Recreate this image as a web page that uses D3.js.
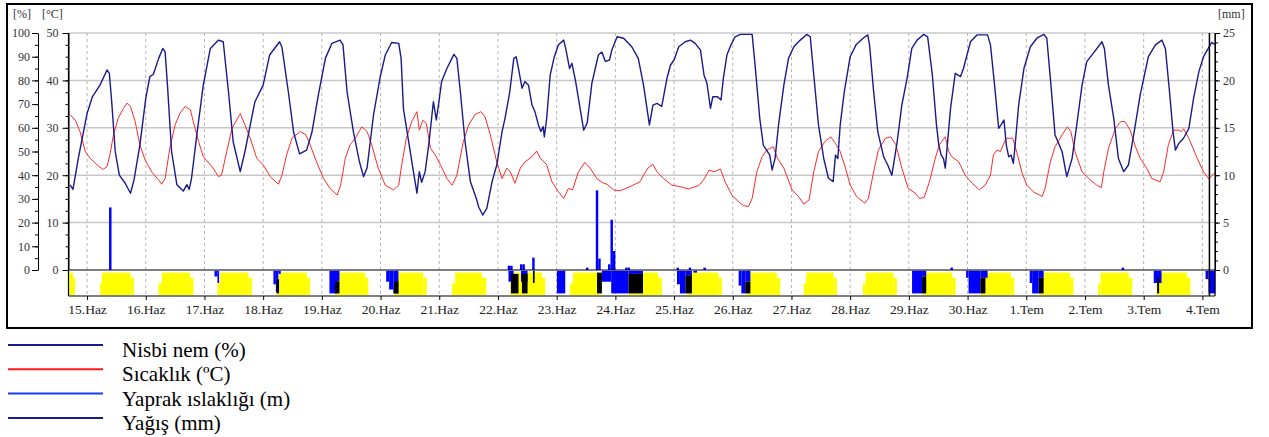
<!DOCTYPE html>
<meta charset="UTF-8">
<style>
  body { margin: 0; background: #fff; }
  text { font-family: "Liberation Serif", "Times New Roman", serif; }
</style>
<svg width="1269" height="437"></svg>
<script src="https://cdn.jsdelivr.net/npm/d3@7"></script>
<script>

// gün etiketleri (15.Haz = gün 0)
var dayLabels = ["15.Haz", "16.Haz", "17.Haz", "18.Haz", "19.Haz", "20.Haz", "21.Haz", "22.Haz",
  "23.Haz", "24.Haz", "25.Haz", "26.Haz", "27.Haz", "28.Haz", "29.Haz", "30.Haz",
  "1.Tem", "2.Tem", "3.Tem", "4.Tem"];

// nisbi nem [gün, %]
var humidity = [
  [-0.29,35.9],[-0.24,34],[-0.15,47],[0,66],[0.09,73],[0.22,78],[0.34,84.4],[0.38,83],[0.42,71],[0.48,50],[0.55,40],[0.65,36.6],[0.74,32.4],[0.80,38],[0.90,52.7],
  [1.0,72.4],[1.07,81.6],[1.13,82.6],[1.22,89.3],[1.29,93.5],[1.33,92],[1.37,78],[1.44,50],[1.53,36],[1.64,33.3],[1.70,36],[1.74,34],[1.78,38.7],[1.87,57],[1.98,78],
  [2.10,93.5],[2.24,97],[2.32,96.3],[2.41,75],[2.49,54],[2.61,41.5],[2.69,50],[2.86,71],[3.0,78],[3.11,90.7],[3.28,96.3],[3.32,94],[3.43,75],[3.52,58],[3.62,49],[3.74,50.6],[3.83,58],[3.94,73.8],
  [4.06,89.3],[4.17,95.6],[4.31,97],[4.36,95],[4.43,75],[4.54,58],[4.64,45.7],[4.71,39.4],[4.77,43],[4.88,65.4],[4.99,81],
  [5.08,90.7],[5.19,96],[5.31,95.6],[5.35,89.3],[5.39,68],[5.48,54],[5.56,41.5],[5.62,32.4],[5.66,41.5],[5.70,37],[5.76,41.5],[5.82,52.7],[5.90,71],[5.95,63.3],[5.99,70.3],
  [6.04,79.5],[6.13,85],[6.25,91],[6.30,89.3],[6.36,75],[6.44,54],[6.53,37.3],[6.64,29.5],[6.67,26.7],[6.74,23.2],[6.81,26],[6.90,37.3],[6.98,44.3],
  [7.07,58.4],[7.12,64],[7.20,75],[7.27,89.3],[7.31,90],[7.35,85],[7.41,76.7],[7.46,79.5],[7.52,78],[7.58,69.6],[7.63,66.8],[7.69,61.2],[7.73,58.4],[7.77,60.5],[7.79,56.2],[7.83,64],[7.89,82.3],[7.96,90],
  [8.03,95],[8.12,97],[8.16,92.8],[8.22,85],[8.26,87.2],[8.32,80],[8.39,69.6],[8.46,59],[8.52,62],[8.60,78.8],[8.71,90.7],[8.77,92],[8.83,88],[8.90,88.6],[8.94,92.8],
  [9.03,98.4],[9.14,97.8],[9.28,94.2],[9.39,89.3],[9.48,78],[9.58,61.2],[9.64,69.6],[9.71,70.3],[9.79,69],[9.88,81],[9.94,86.5],
  [10.0,88.6],[10.08,94.2],[10.19,96.3],[10.28,97],[10.36,95.6],[10.45,92.8],[10.51,82.3],[10.56,78.8],[10.62,68.2],[10.66,73.1],[10.74,73.1],[10.80,71.7],[10.84,81],[10.90,90.7],[10.97,95],
  [11.04,98.4],[11.13,99.4],[11.33,99.4],[11.38,86.5],[11.46,64],[11.52,52.7],[11.63,48.5],[11.67,42.2],[11.72,47],[11.78,61.2],[11.87,78],[11.95,89.3],
  [12.04,94.2],[12.15,97],[12.26,99.4],[12.32,98.4],[12.38,82.3],[12.46,61.2],[12.55,47],[12.63,38.7],[12.71,37.3],[12.75,48.5],[12.79,47],[12.83,61.2],[12.90,75.2],
  [13.0,90],[13.10,95],[13.22,97.8],[13.30,99.2],[13.33,95],[13.40,75.2],[13.47,58.4],[13.57,47.8],[13.64,44.3],[13.71,40],[13.80,54],[13.88,69.6],[13.97,81],
  [14.05,93.5],[14.14,97],[14.25,99.4],[14.32,98.4],[14.40,82.3],[14.47,61.2],[14.51,52.7],[14.55,48.5],[14.59,47],[14.62,43],[14.65,51.3],[14.71,68.2],[14.79,83],[14.88,81.6],[14.93,85],[14.99,90.7],
  [15.05,96.3],[15.16,99.2],[15.34,99.2],[15.39,95],[15.46,78],[15.53,59.8],[15.57,61.2],[15.62,63.3],[15.66,52.7],[15.70,47.8],[15.74,48.5],[15.78,45],[15.81,52.7],[15.87,69.6],[15.96,85],
  [16.07,94.2],[16.18,97.8],[16.30,99.4],[16.35,97.8],[16.42,78],[16.49,57],[16.61,50],[16.69,39.4],[16.78,47],[16.86,61.2],[16.95,78],
  [17.03,87.9],[17.14,91.4],[17.29,96.3],[17.33,93.5],[17.40,78],[17.49,64],[17.57,47],[17.66,41.5],[17.74,44.3],[17.83,57],[17.94,73.8],
  [18.08,90],[18.20,95],[18.31,97],[18.37,93.5],[18.44,75.2],[18.50,58.4],[18.54,50.6],[18.60,53.5],[18.68,55.6],[18.77,59.8],[18.85,72.4],[18.94,83.7],
  [19.02,90],[19.11,93.9],[19.16,96],[19.21,95.2]
];

// sıcaklık [gün, °C]
var temperature = [
  [-0.29,32.8],[-0.20,31.6],[-0.12,29.2],[-0.03,25],[0.05,23.6],[0.17,22.2],[0.27,21.2],[0.34,21.8],[0.39,24.3],[0.45,28.5],[0.53,32],[0.62,34.1],[0.68,35.2],[0.74,34.5],[0.82,31.3],[0.90,26.4],[0.99,23.2],
  [1.10,20.7],[1.22,19],[1.27,18.1],[1.33,19.3],[1.41,25.7],[1.50,30.6],[1.58,33],[1.67,34.5],[1.76,33.8],[1.81,31.3],[1.90,27.1],[1.98,23.9],
  [2.13,21.8],[2.24,19.7],[2.29,20],[2.38,25],[2.47,29.9],[2.61,33],[2.69,30.6],[2.78,27.8],[2.89,23.6],[3.0,22.2],
  [3.12,19.7],[3.26,18.1],[3.32,20],[3.40,24.3],[3.49,27.8],[3.63,29.2],[3.73,28.5],[3.80,26.4],[3.91,22.8],
  [4.03,19.3],[4.14,17.2],[4.26,15.8],[4.32,17.9],[4.40,23.6],[4.48,26.4],[4.57,27.8],[4.68,30.2],[4.77,29.2],[4.85,26.4],[4.96,21.5],
  [5.08,17.9],[5.22,16.9],[5.31,17.9],[5.36,22.2],[5.44,27.8],[5.53,31.3],[5.62,33.4],[5.66,29.5],[5.72,31.6],[5.78,30.9],[5.85,25.7],[5.93,24.3],
  [6.02,22.2],[6.13,19.3],[6.22,17.9],[6.30,20],[6.41,27.1],[6.50,30.6],[6.61,32.8],[6.71,33.4],[6.78,32.3],[6.87,28.5],[6.98,22.8],
  [7.07,19.3],[7.15,21.5],[7.21,20.7],[7.29,18.3],[7.38,21.5],[7.46,22.8],[7.58,23.9],[7.66,25.1],[7.72,23.6],[7.83,22.2],[7.92,18.6],
  [8.03,16.5],[8.12,15.1],[8.20,17.2],[8.27,16.9],[8.37,20.7],[8.48,22.7],[8.57,21.5],[8.69,19.2],[8.80,18.3],[8.86,18.1],[8.97,16.9],
  [9.08,16.7],[9.25,17.6],[9.42,18.6],[9.48,20],[9.56,21.6],[9.64,22.3],[9.71,20.7],[9.82,19.3],[9.96,17.9],
  [10.10,17.6],[10.24,17.1],[10.42,17.8],[10.50,19],[10.60,21.1],[10.68,20.7],[10.79,21.3],[10.87,18.6],[10.99,15.7],
  [11.10,14.4],[11.18,13.6],[11.27,13.4],[11.33,15.1],[11.41,20.7],[11.50,23.9],[11.58,25.3],[11.69,26],[11.76,23.6],[11.87,21.5],
  [12.01,16.9],[12.12,15.5],[12.21,13.9],[12.30,14.8],[12.38,20.7],[12.46,25],[12.57,27.1],[12.67,28.1],[12.75,26.7],[12.83,25],[12.92,21.5],
  [13.0,17.9],[13.11,15.5],[13.25,14.1],[13.31,15.1],[13.40,20.7],[13.48,25.3],[13.60,27.8],[13.69,28.1],[13.78,26.4],[13.88,21.5],[13.99,17.2],
  [14.11,16.2],[14.18,15.1],[14.26,15.3],[14.35,18.6],[14.45,23.6],[14.52,26.4],[14.56,27.1],[14.62,28.1],[14.68,25],[14.73,23.9],[14.85,22.8],[14.96,20],
  [15.08,18.3],[15.20,16.9],[15.30,17.9],[15.39,20],[15.44,24.3],[15.50,25.3],[15.56,25],[15.64,27.4],[15.67,27.8],[15.77,27.8],[15.85,24.3],[15.93,20.4],
  [16.01,17.9],[16.12,16.5],[16.27,15.5],[16.32,17.2],[16.41,22.8],[16.49,26],[16.61,28.5],[16.70,30.2],[16.76,29.2],[16.83,25],[16.95,20.7],
  [17.09,19],[17.20,17.9],[17.28,17.4],[17.32,20.7],[17.40,25.7],[17.52,29.9],[17.61,31.3],[17.68,31.3],[17.77,29.5],[17.86,26],[17.94,23.6],
  [18.05,21.5],[18.14,19.3],[18.28,18.6],[18.34,20.7],[18.42,26.4],[18.51,29.5],[18.60,29.5],[18.64,29.2],[18.68,29.8],[18.77,27.8],[18.91,23.6],
  [19.02,20.7],[19.11,19.2],[19.20,20.4]
];

// yağış, saatlik [saat (15.Haz 00:00'dan), mm]
var rain = [
  [9,6.6],[172,0.45],[173,0.45],[177,0.6],[178,0.6],[182,1.3],[204,0.25],[208,8.4],[209,1.2],
  [213,0.6],[214,5.3],[215,2.0],[220,0.25],[221,0.25],[241,0.25],[246,0.25],[252,0.25],[353,0.25],[423,0.25]
];

// alt şerit blokları [başlangıç saati, bitiş saati, üst, alt] (üst/alt: şerit yüksekliğinin oranı)
var sunBlocks = [
  [-7.6,-5.7,0.1,0.96],[-5.7,-4.9,0.3,0.96],
  [5.3,6.0,0.51,0.96],[6.0,17.9,0.1,0.96],[17.9,19.2,0.3,0.96],
  [29.2,30.6,0.51,0.96],[30.6,42.1,0.1,0.96],[42.1,43.5,0.3,0.96],
  [53.3,54.3,0.51,0.96],[54.3,66.0,0.1,0.96],[66.0,67.4,0.3,0.96],
  [77.4,78.5,0.51,0.96],[78.5,89.9,0.1,0.96],[89.9,91.2,0.3,0.96],
  [101.3,102.3,0.51,0.96],[102.3,113.7,0.1,0.96],[113.7,115.0,0.3,0.96],
  [125.3,126.3,0.51,0.96],[126.3,137.5,0.1,0.96],[137.5,138.9,0.3,0.96],
  [149.2,150.5,0.51,0.96],[150.5,161.4,0.1,0.96],[161.4,163.2,0.3,0.96],
  [173.0,174.0,0.51,0.96],[174.0,186.0,0.1,0.96],[186.0,187.3,0.3,0.96],
  [197.5,198.7,0.51,0.96],[198.7,210.0,0.1,0.96],
  [221.5,233.5,0.1,0.96],[233.5,235.0,0.3,0.96],
  [245.3,246.5,0.51,0.96],[246.5,258.2,0.1,0.96],[258.2,259.6,0.3,0.96],
  [269.3,270.3,0.51,0.96],[270.3,282.0,0.1,0.96],[282.0,283.4,0.3,0.96],
  [293.0,294.0,0.51,0.96],[294.0,305.2,0.1,0.96],[305.2,306.6,0.3,0.96],
  [317.2,318.3,0.51,0.96],[318.3,329.7,0.1,0.96],[329.7,331.1,0.3,0.96],
  [341.3,342.4,0.51,0.96],[342.4,353.7,0.1,0.96],[353.7,355.1,0.3,0.96],
  [365.3,366.3,0.51,0.96],[366.3,377.7,0.1,0.96],[377.7,379.1,0.3,0.96],
  [389.3,390.3,0.51,0.96],[390.3,401.9,0.1,0.96],[401.9,403.3,0.3,0.96],
  [413.4,414.4,0.51,0.96],[414.4,425.9,0.1,0.96],[425.9,427.3,0.3,0.96],
  [437.2,438.2,0.51,0.96],[438.2,449.7,0.1,0.96],[449.7,451.1,0.3,0.96]
];

var wetBlocks = [
  [52.1,53.3,0.03,0.25],[53.3,54.0,0.03,0.5],
  [76.2,77.2,0.03,0.55],[77.2,78.2,0.03,0.85],[78.2,79.2,0.03,0.15],
  [99.1,102.2,0.03,0.9],[102.2,103.2,0.03,0.45],
  [122.3,123.5,0.03,0.45],[123.5,125.2,0.03,0.75],[125.2,127.3,0.03,0.9],
  [172.3,174.4,0.03,0.45],[177.4,180.1,0.03,0.45],
  [192.1,195.5,0.03,0.9],
  [210.5,214.3,0.03,0.45],[214.3,221.4,0.03,0.9],[221.4,227.3,0.03,0.15],
  [241.2,242.4,0.03,0.55],[242.4,244.6,0.03,0.9],[244.6,247.3,0.03,0.2],[247.9,249.4,0.03,0.1],
  [266.4,267.5,0.03,0.6],[267.5,269.1,0.03,0.9],[269.1,271.2,0.03,0.45],
  [337.3,341.4,0.03,0.9],[341.4,343.1,0.03,0.25],
  [359.4,360.4,0.03,0.3],[360.4,365.2,0.03,0.9],[365.2,368.2,0.03,0.3],
  [385.4,386.4,0.03,0.5],[386.4,389.1,0.03,0.9],[389.1,391.1,0.03,0.3],
  [436.1,439.3,0.03,0.5],
  [457.3,458.5,0.03,0.35],[458.5,461.3,0.03,0.9]
];

var darkBlocks = [
  [77.5,78.5,0.35,0.9],
  [101.4,103.2,0.45,0.9],
  [125.5,127.3,0.45,0.9],
  [173.3,176.4,0.15,0.9],[177.8,180.1,0.15,0.9],[182.3,183.0,0.03,0.5],
  [208.5,210.5,0.1,0.9],[221.4,227.3,0.15,0.9],
  [244.6,247.3,0.2,0.9],
  [269.1,271.2,0.45,0.9],
  [341.4,343.1,0.25,0.9],
  [365.2,367.3,0.3,0.9],
  [389.1,391.1,0.3,0.9],
  [437.5,438.3,0.3,0.9]
];

var cursorDay = 19.12;

var svg = d3.select("svg");

var plotL = 68.5, plotR = 1215, plotT = 33, zeroY = 270, bandB = 296;

var x = d3.scaleLinear().domain([-0.316, 19.215]).range([plotL, plotR]);
var yHum = d3.scaleLinear().domain([0, 100]).range([zeroY, plotT]);
var yTemp = d3.scaleLinear().domain([0, 50]).range([zeroY, plotT]);
var yRain = d3.scaleLinear().domain([0, 25]).range([zeroY, plotT]);
var yBand = d3.scaleLinear().domain([0, 1]).range([zeroY, bandB]);

// çerçeve
svg.append("rect")
    .attr("x", 7).attr("y", 4).attr("width", 1245).attr("height", 324)
    .attr("fill", "none").attr("stroke", "#000").attr("stroke-width", 2);

var g = svg.append("g");

// yatay ızgara
g.selectAll(".hgrid")
    .data([10, 20, 30, 40, 50])
    .enter().append("line")
    .attr("x1", plotL).attr("x2", plotR)
    .attr("y1", function(d) { return yTemp(d); })
    .attr("y2", function(d) { return yTemp(d); })
    .attr("stroke", "#c8c8c8").attr("stroke-width", 1.5);

// dikey kesikli ızgara
g.selectAll(".vgrid")
    .data(d3.range(dayLabels.length))
    .enter().append("line")
    .attr("x1", function(d) { return x(d); })
    .attr("x2", function(d) { return x(d); })
    .attr("y1", plotT).attr("y2", bandB)
    .attr("stroke", "#b4b4b4").attr("stroke-dasharray", "3,3");

function drawBlocks(data, color) {
    g.append("g").selectAll("rect")
        .data(data)
        .enter().append("rect")
        .attr("x", function(d) { return x(d[0] / 24); })
        .attr("width", function(d) { return x(d[1] / 24) - x(d[0] / 24); })
        .attr("y", function(d) { return yBand(d[2]); })
        .attr("height", function(d) { return yBand(d[3]) - yBand(d[2]); })
        .attr("fill", color);
}
drawBlocks(sunBlocks, "#ffff00");
drawBlocks(wetBlocks, "#0000ff");
drawBlocks(darkBlocks, "#000000");

// yağış çubukları
g.append("g").selectAll("rect")
    .data(rain)
    .enter().append("rect")
    .attr("x", function(d) { return x(d[0] / 24); })
    .attr("width", function(d) { return x((d[0] + 1) / 24) - x(d[0] / 24); })
    .attr("y", function(d) { return yRain(d[1]); })
    .attr("height", function(d) { return zeroY - yRain(d[1]); })
    .attr("fill", "#0000ff");

var tempLine = d3.line()
    .x(function(d) { return x(d[0]); })
    .y(function(d) { return yTemp(d[1]); });

var humLine = d3.line()
    .x(function(d) { return x(d[0]); })
    .y(function(d) { return yHum(d[1]); });

g.append("path")
    .datum(temperature)
    .attr("fill", "none")
    .attr("stroke", "#ff2a2a")
    .attr("stroke-width", 1)
    .attr("stroke-linejoin", "round")
    .attr("d", tempLine);

g.append("path")
    .datum(humidity)
    .attr("fill", "none")
    .attr("stroke", "#1a1a8c")
    .attr("stroke-width", 1.4)
    .attr("stroke-linejoin", "round")
    .attr("d", humLine);

// imleç çizgisi
g.append("line")
    .attr("x1", x(cursorDay)).attr("x2", x(cursorDay))
    .attr("y1", plotT).attr("y2", bandB)
    .attr("stroke", "#000").attr("stroke-width", 1.5);

// sıfır çizgisi ve alt eksen
g.append("line")
    .attr("x1", plotL).attr("x2", plotR).attr("y1", zeroY).attr("y2", zeroY)
    .attr("stroke", "#000").attr("stroke-width", 1.2);

var xAxis = g.append("g")
    .attr("transform", "translate(0," + bandB + ")")
    .call(d3.axisBottom(x)
        .tickValues(d3.range(dayLabels.length))
        .tickFormat(function(d) { return dayLabels[d]; })
        .tickSize(4).tickSizeOuter(0).tickPadding(4));
xAxis.select(".domain").remove();
xAxis.selectAll("line").attr("stroke", "#000");
xAxis.selectAll("text").attr("font-family", "Liberation Serif").attr("font-size", 13.5).attr("fill", "#222");

g.append("line")
    .attr("x1", plotL).attr("x2", plotR).attr("y1", bandB).attr("y2", bandB)
    .attr("stroke", "#000").attr("stroke-width", 1.2);
g.append("line")
    .attr("x1", plotL).attr("x2", plotL).attr("y1", plotT).attr("y2", bandB)
    .attr("stroke", "#000").attr("stroke-width", 1.2);
g.append("line")
    .attr("x1", plotR).attr("x2", plotR).attr("y1", plotT).attr("y2", bandB)
    .attr("stroke", "#000").attr("stroke-width", 1.2);

function styleAxis(sel) {
    sel.selectAll("text").attr("font-family", "Liberation Serif").attr("font-size", 12).attr("fill", "#333");
    sel.selectAll("line, path").attr("stroke", "#000");
}

// % ekseni
var humAxis = svg.append("g").attr("transform", "translate(38,0)");
humAxis.call(d3.axisLeft(yHum).tickValues(d3.range(0, 101, 5)).tickSize(3).tickSizeOuter(0).tickFormat(""))
    .call(styleAxis);
humAxis.append("g").call(d3.axisLeft(yHum).tickValues(d3.range(0, 101, 10)).tickSize(6).tickSizeOuter(0).tickPadding(2))
    .call(styleAxis).select(".domain").remove();

// °C ekseni
var tempAxis = svg.append("g").attr("transform", "translate(" + plotL + ",0)");
tempAxis.call(d3.axisLeft(yTemp).tickValues(d3.range(0, 50.1, 2.5)).tickSize(3).tickSizeOuter(0).tickFormat(""))
    .call(styleAxis);
tempAxis.append("g").call(d3.axisLeft(yTemp).tickValues(d3.range(0, 51, 10)).tickSize(6).tickSizeOuter(0).tickPadding(4))
    .call(styleAxis).select(".domain").remove();

// mm ekseni
var rainAxis = svg.append("g").attr("transform", "translate(" + plotR + ",0)");
rainAxis.call(d3.axisRight(yRain).tickValues(d3.range(0, 26, 1)).tickSize(3).tickSizeOuter(0).tickFormat(""))
    .call(styleAxis);
rainAxis.append("g").call(d3.axisRight(yRain).tickValues(d3.range(0, 26, 5)).tickSize(5).tickSizeOuter(0).tickPadding(3))
    .call(styleAxis).select(".domain").remove();

// birim başlıkları
var units = [["[%]", 13], ["[°C]", 42], ["[mm]", 1218]];
svg.selectAll(".unit")
    .data(units)
    .enter().append("text")
    .attr("x", function(d) { return d[1]; })
    .attr("y", 18)
    .attr("font-size", 12)
    .attr("fill", "#333")
    .text(function(d) { return d[0]; });

// lejant
var legendItems = [
    ["Nisbi nem (%)", "#1a1a8c"],
    ["Sıcaklık (ºC)", "#ff1a1a"],
    ["Yaprak ıslaklığı (m)", "#1a3cff"],
    ["Yağış (mm)", "#1a1a8c"]
];
var legend = svg.append("g").attr("transform", "translate(0,345)");
legend.selectAll("line")
    .data(legendItems)
    .enter().append("line")
    .attr("x1", 8).attr("x2", 103)
    .attr("y1", function(d, i) { return i * 24.3; })
    .attr("y2", function(d, i) { return i * 24.3; })
    .attr("stroke", function(d) { return d[1]; })
    .attr("stroke-width", 2);
legend.selectAll("text")
    .data(legendItems)
    .enter().append("text")
    .attr("x", 122)
    .attr("y", function(d, i) { return i * 24.3 + 12; })
    .attr("font-size", 21)
    .attr("fill", "#000")
    .text(function(d) { return d[0]; });

</script>
